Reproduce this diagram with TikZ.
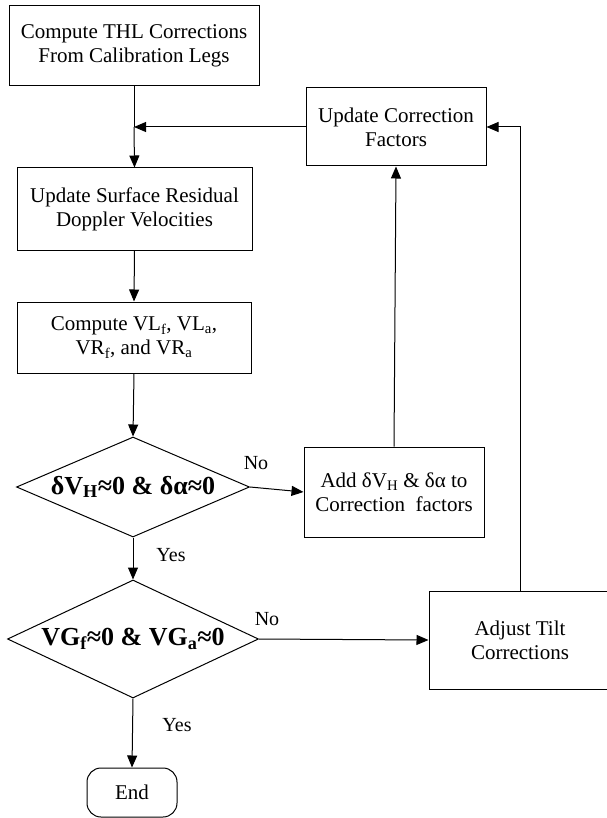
\documentclass[tikz,border=0pt]{standalone}
\usepackage{fontspec}
\setmainfont{Liberation Serif}
\usetikzlibrary{positioning,shapes.geometric,arrows.meta}

\begin{document}
\begin{tikzpicture}[x=1pt,y=-1pt]
\tikzstyle{every node}+=[inner sep=0pt]
\tikzstyle{box}=[draw, line width=1pt, align=center, font=\fontsize{21}{24}\selectfont]
\tikzstyle{test}=[draw, diamond, line width=1pt, font=\fontsize{26}{28}\selectfont\bfseries]
\tikzstyle{flow}=[line width=1pt, -{Triangle[length=12pt,width=10pt]}]
\tikzstyle{lbl}=[font=\fontsize{20}{22}\selectfont]
\useasboundingbox (0,0) rectangle (606,818);
% main column
\node[box, minimum width=250pt, minimum height=80pt] (thl) at (134,46) {Compute THL Corrections\\From Calibration Legs};
\node[box, minimum width=235pt, minimum height=82pt] (surf) at (134.5,209) {Update Surface Residual\\Doppler Velocities};
\node[box, minimum width=234pt, minimum height=71pt] (vel) at (134,337.5) {Compute VL\textsubscript{f}, VL\textsubscript{a},\\VR\textsubscript{f}, and VR\textsubscript{a}};
\node[test, aspect=2.33, minimum width=233pt, minimum height=100pt] (dvh) at (133,487) {δV\textsubscript{H}≈0 \& δα≈0};
\node[test, aspect=2.13, minimum width=251pt, minimum height=118pt] (vg) at (133,639) {VG\textsubscript{f}≈0 \& VG\textsubscript{a}≈0};
\node[box, rounded corners=14pt, minimum width=90pt, minimum height=49pt] (end) at (132,792.5) {End};
% correction loop
\node[box, minimum width=180pt, minimum height=78pt] (upd) at (396,127) {Update Correction\\Factors};
\node[box, minimum width=180pt, minimum height=90pt] (add) at (394,492) {Add δV\textsubscript{H} \& δα to\\Correction\ \ factors};
\node[box, minimum width=182pt, minimum height=98pt] (tilt) at (520,640) {Adjust Tilt\\Corrections};
\coordinate (join) at (thl.south |- upd.west);
\coordinate (turn) at (tilt.north |- upd.east);
% arrows
\draw[line width=1pt] (thl.south) -- (join);
\draw[flow] (join) -- (surf.north);
\draw[flow] (upd.west) -- (join);
\draw[flow] (surf.south) -- (vel.north);
\draw[flow] (vel.south) -- (dvh.north);
\draw[flow] (dvh.east) -- (add.west);
\draw[flow] (add.north) -- (upd.south);
\draw[flow] (dvh.south) -- (vg.north);
\draw[flow] (vg.east) -- (tilt.west);
\draw[flow] (tilt.north) -- (turn) -- (upd.east);
\draw[flow] (vg.south) -- (end.north);
% branch labels
\node[lbl] (no1) at (256,463) {No};
\node[lbl] (yes1) at (171,555) {Yes};
\node[lbl] (no2) at (267,619) {No};
\node[lbl] (yes2) at (177,725) {Yes};
\end{tikzpicture}
\end{document}
